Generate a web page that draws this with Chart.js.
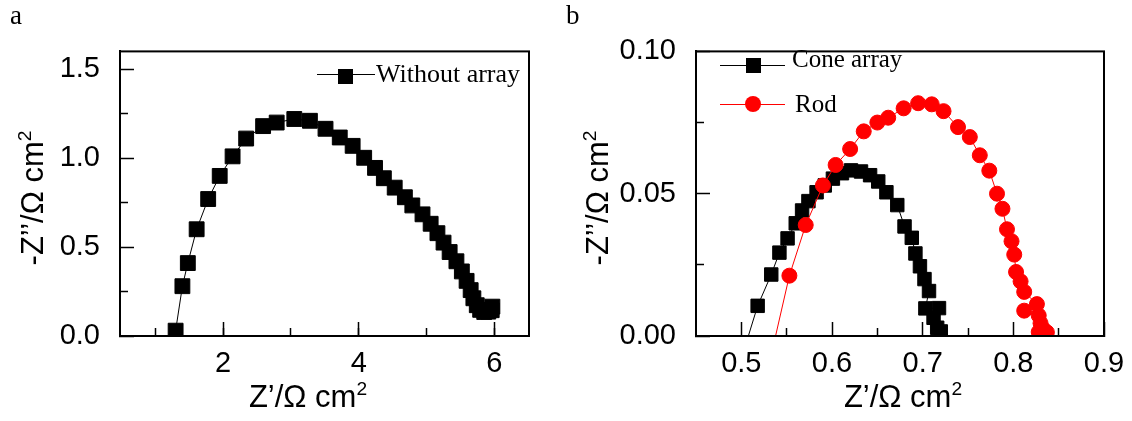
<!DOCTYPE html>
<html>
<head>
<meta charset="utf-8">
<script src="https://cdn.jsdelivr.net/npm/chart.js@4.4.1/dist/chart.umd.min.js"></script>
<style>
  body { margin: 0; background: #fff; width: 1132px; height: 421px; position: relative; overflow: hidden; }
  .panel { position: absolute; top: 0; height: 421px; }
  #panelA { left: 0; width: 560px; }
  #panelB { left: 560px; width: 572px; }
  .serif { position: absolute; font-family: 'Liberation Serif', 'Times New Roman', serif; color: #000; white-space: nowrap; }
  .axt { position: absolute; font-family: 'Liberation Sans', Arial, sans-serif; font-size: 31px; line-height: 31px; color: #000; white-space: nowrap; transform: translate(-50%, -50%); }
  .axt.rot { transform: translate(-50%, -50%) rotate(-90deg); }
  .axt sup { font-size: 0.62em; line-height: 0; }
  .seg { position: absolute; height: 1px; }
  .sq { position: absolute; background: #000; }
  .dot { position: absolute; background: #f00; border-radius: 50%; }
</style>
</head>
<body>
<div class="panel" id="panelA"><canvas id="chartA"></canvas></div>
<div class="panel" id="panelB"><canvas id="chartB"></canvas></div>

<div class="serif" style="left:10px; top:2px; font-size:27px; line-height:27px;">a</div>
<div class="serif" style="left:566px; top:2px; font-size:27px; line-height:27px;">b</div>

<div class="axt rot" style="left:32px; top:198px;">-Z’’/Ω cm<sup>2</sup></div>
<div class="axt" style="left:308px; top:396px;">Z’/Ω cm<sup>2</sup></div>
<div class="axt rot" style="left:597px; top:198px;">-Z’’/Ω cm<sup>2</sup></div>
<div class="axt" style="left:903px; top:396px;">Z’/Ω cm<sup>2</sup></div>

<!-- legend, panel a -->
<div class="seg" style="left:317px; top:74px; width:58px; background:#000;"></div>
<div class="sq" style="left:338px; top:69px; width:15px; height:15px;"></div>
<div class="serif" style="left:376px; top:61px; font-size:26px; line-height:26px;">Without array</div>

<!-- legend, panel b -->
<div class="seg" style="left:720px; top:65px; width:65px; background:#000;"></div>
<div class="sq" style="left:746px; top:58px; width:15px; height:15px;"></div>
<div class="serif" style="left:792px; top:46px; font-size:25px; line-height:25px;">Cone array</div>
<div class="seg" style="left:720px; top:104px; width:65px; background:#f00;"></div>
<div class="dot" style="left:745px; top:96px; width:16px; height:16px;"></div>
<div class="serif" style="left:795px; top:91px; font-size:25px; line-height:25px;">Rod</div>

<script>
// (a) impedance arc without the array: Z' and -Z'' in Ω cm²
const noArrayRe = [1.30, 1.40, 1.48, 1.61, 1.78, 1.95, 2.14, 2.34, 2.59, 2.79, 3.05, 3.28, 3.51,
  3.72, 3.91, 4.08, 4.24, 4.37, 4.53, 4.68, 4.79, 4.94, 5.06, 5.16, 5.25, 5.34, 5.44, 5.52,
  5.59, 5.65, 5.69, 5.74, 5.79, 5.85, 5.91, 5.96, 5.97];
const noArrayIm = [0.03, 0.28, 0.41, 0.60, 0.77, 0.90, 1.01, 1.11, 1.18, 1.20, 1.22, 1.21, 1.165,
  1.116, 1.069, 1.002, 0.945, 0.887, 0.834, 0.78, 0.734, 0.684, 0.631, 0.578, 0.525, 0.472, 0.42, 0.363,
  0.31, 0.258, 0.212, 0.173, 0.147, 0.135, 0.137, 0.145, 0.165];

// (b) cone array vs rod
const coneRe = [0.500, 0.518, 0.533, 0.542, 0.551, 0.560, 0.567, 0.574, 0.583, 0.592, 0.601, 0.611,
  0.621, 0.632, 0.642, 0.651, 0.660, 0.672, 0.680, 0.688, 0.692, 0.697, 0.702, 0.707, 0.703, 0.718,
  0.712, 0.716, 0.720];
const coneIm = [-0.008, 0.0106, 0.0216, 0.0293, 0.0343, 0.0396, 0.0441, 0.0474, 0.0505, 0.0529, 0.0553, 0.0572,
  0.0582, 0.0578, 0.0565, 0.0543, 0.0505, 0.046, 0.0385, 0.0345, 0.029, 0.0245, 0.020, 0.0158, 0.0097, 0.0098,
  0.0064, 0.0029, 0.0016];

const rodRe = [0.532, 0.553, 0.571, 0.590, 0.604, 0.620, 0.635, 0.650, 0.662, 0.679, 0.695, 0.710,
  0.723, 0.739, 0.752, 0.763, 0.7735, 0.782, 0.788, 0.793, 0.798, 0.801, 0.803, 0.808, 0.812, 0.826,
  0.812, 0.828, 0.830, 0.833, 0.828, 0.837];
const rodIm = [-0.008, 0.0212, 0.039, 0.0529, 0.0601, 0.0657, 0.0719, 0.075, 0.0767, 0.080, 0.0818, 0.0814,
  0.079, 0.0734, 0.0699, 0.0635, 0.0581, 0.050, 0.0447, 0.0375, 0.0333, 0.0286, 0.0225, 0.0192, 0.0155, 0.0112,
  0.0089, 0.0072, 0.0045, 0.0024, 0.0014, 0.0013];

// tick positions
const aMajorX = [2, 4, 6];
const aMinorX = [1, 2, 3, 4, 5, 6];
const aMajorY = [0, 0.5, 1.0, 1.5];
const aMinorY = [0.25, 0.75, 1.25];
const bMajorX = [0.5, 0.6, 0.7, 0.8, 0.9];
const bMinorX = [0.55, 0.65, 0.75, 0.85];
const bMajorY = [0, 0.05, 0.10];
const bMinorY = [0.025, 0.075];

Chart.defaults.font.family = "'Liberation Sans', Arial, sans-serif";
Chart.defaults.color = '#000';

const toPoints = (xs, ys) => xs.map((x, i) => ({ x: x, y: ys[i] }));

// closed box around the plot area
const boxFrame = {
  id: 'boxFrame',
  afterDatasetsDraw(chart) {
    const { ctx, chartArea: a } = chart;
    ctx.save();
    ctx.strokeStyle = '#000';
    ctx.lineWidth = 2;
    ctx.strokeRect(a.left, a.top, a.right - a.left, a.bottom - a.top);
    ctx.restore();
  }
};

// inward ticks: a long-tick axis with labels plus a short-tick axis with none
function buildScales(o) {
  const useTicks = vals => s => { s.ticks = vals.map(v => ({ value: v })); };
  const grid = len => ({ drawOnChartArea: false, tickLength: -len, tickWidth: 1.5, tickColor: '#000' });
  return {
    x: {
      type: 'linear', position: 'bottom', min: o.xMin, max: o.xMax,
      afterBuildTicks: useTicks(o.xMajor),
      // fixed axis height; edge labels may spill into the side padding
      afterFit: s => { s.height = 85; s.paddingLeft = 0; s.paddingRight = 0; },
      border: { color: '#000', width: 2 },
      grid: grid(14),
      ticks: { font: { size: 29 }, padding: 25, maxRotation: 0, autoSkip: false, callback: o.xFmt }
    },
    xMinor: {
      type: 'linear', position: 'bottom', weight: -1, min: o.xMin, max: o.xMax,
      afterBuildTicks: useTicks(o.xMinor),
      afterFit: s => { s.height = 0; },
      border: { display: false },
      grid: grid(8),
      ticks: { display: false }
    },
    y: {
      type: 'linear', position: 'left', min: o.yMin, max: o.yMax,
      afterBuildTicks: useTicks(o.yMajor),
      afterFit: s => { s.width = o.yWidth; },
      border: { color: '#000', width: 2 },
      grid: grid(14),
      ticks: { font: { size: 29 }, padding: 34, autoSkip: false, callback: o.yFmt }
    },
    yMinor: {
      type: 'linear', position: 'left', weight: -1, min: o.yMin, max: o.yMax,
      afterBuildTicks: useTicks(o.yMinor),
      afterFit: s => { s.width = 0; },
      border: { display: false },
      grid: grid(8),
      ticks: { display: false }
    }
  };
}

const baseOptions = (scales, padRight) => ({
  responsive: true,
  maintainAspectRatio: false,
  animation: false,
  layout: { padding: { left: 0, right: padRight, top: 35, bottom: 0 } },
  plugins: { legend: { display: false }, tooltip: { enabled: false } },
  scales: scales
});

new Chart(document.getElementById('chartA'), {
  type: 'scatter',
  data: {
    datasets: [{
      label: 'Without array',
      data: toPoints(noArrayRe, noArrayIm),
      showLine: true,
      borderColor: '#000',
      borderWidth: 1,
      pointStyle: 'rect',
      pointRadius: 10.5,
      pointBorderWidth: 1,
      pointBackgroundColor: '#000',
      pointBorderColor: '#000',
      xAxisID: 'x', yAxisID: 'y'
    }]
  },
  options: baseOptions(buildScales({
    xMin: 0.48, xMax: 6.51, yMin: 0, yMax: 1.6,
    xMajor: aMajorX, xMinor: aMinorX, yMajor: aMajorY, yMinor: aMinorY,
    xFmt: v => String(v), yFmt: v => v.toFixed(1), yWidth: 120
  }), 31),
  plugins: [boxFrame]
});

new Chart(document.getElementById('chartB'), {
  type: 'scatter',
  data: {
    datasets: [{
      label: 'Cone array',
      data: toPoints(coneRe, coneIm),
      showLine: true,
      order: 2,
      borderColor: '#000',
      borderWidth: 1,
      pointStyle: 'rect',
      pointRadius: 9.5,
      pointBorderWidth: 1,
      pointBackgroundColor: '#000',
      pointBorderColor: '#000',
      xAxisID: 'x', yAxisID: 'y'
    }, {
      label: 'Rod',
      data: toPoints(rodRe, rodIm),
      showLine: true,
      order: 1,
      borderColor: '#f00',
      borderWidth: 1,
      pointStyle: 'circle',
      pointRadius: 7.5,
      pointBorderWidth: 1,
      pointBackgroundColor: '#f00',
      pointBorderColor: '#f00',
      xAxisID: 'x', yAxisID: 'y'
    }]
  },
  options: baseOptions(buildScales({
    xMin: 0.45, xMax: 0.9, yMin: 0, yMax: 0.1,
    xMajor: bMajorX, xMinor: bMinorX, yMajor: bMajorY, yMinor: bMinorY,
    xFmt: v => v.toFixed(1), yFmt: v => v.toFixed(2), yWidth: 136
  }), 28),
  plugins: [boxFrame]
});
</script>
</body>
</html>
